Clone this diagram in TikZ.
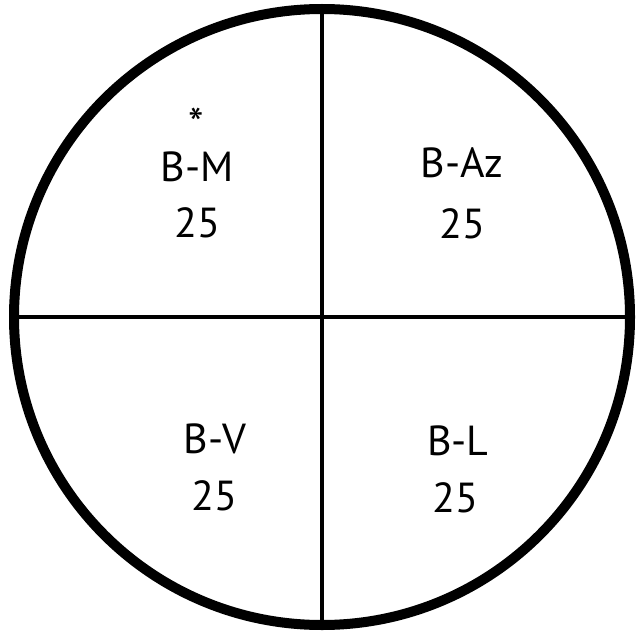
\documentclass[tikz,border=0pt]{standalone}
\usepackage{fontspec}
\setmainfont{PT Sans}
\usepackage{tikz}
\tikzset{
  disco/.style={circle, draw, line width=10pt, inner sep=0pt, outer sep=0pt, minimum size=616pt},
  divisao/.style={line width=4.5pt},
  rotulo/.style={anchor=base, inner sep=0pt, font=\fontsize{42}{50}\selectfont},
  marca/.style={inner sep=0pt, font=\fontsize{44}{50}\selectfont},
}

\begin{document}
\begin{tikzpicture}[x=1pt, y=-1pt]
  \useasboundingbox (0,0) rectangle (636,639);
  \node[disco] (disc) at (322,317) {};
  \draw[divisao] (disc.north) -- (disc.south);
  \draw[divisao] (disc.west) -- (disc.east);
  % quadrantes
  \node[rotulo] (bm) at (197,182) {B-M};
  \node[rotulo] (bmn) at (197,237) {25};
  \node[marca] (ast) at (196,124) {*};
  \node[rotulo] (baz) at (462,178) {B-Az};
  \node[rotulo] (bazn) at (462,238) {25};
  \node[rotulo] (bv) at (215,453) {B-V};
  \node[rotulo] (bvn) at (214,510) {25};
  \node[rotulo] (bl) at (458,455) {B-L};
  \node[rotulo] (bln) at (455,512) {25};
\end{tikzpicture}
\end{document}
